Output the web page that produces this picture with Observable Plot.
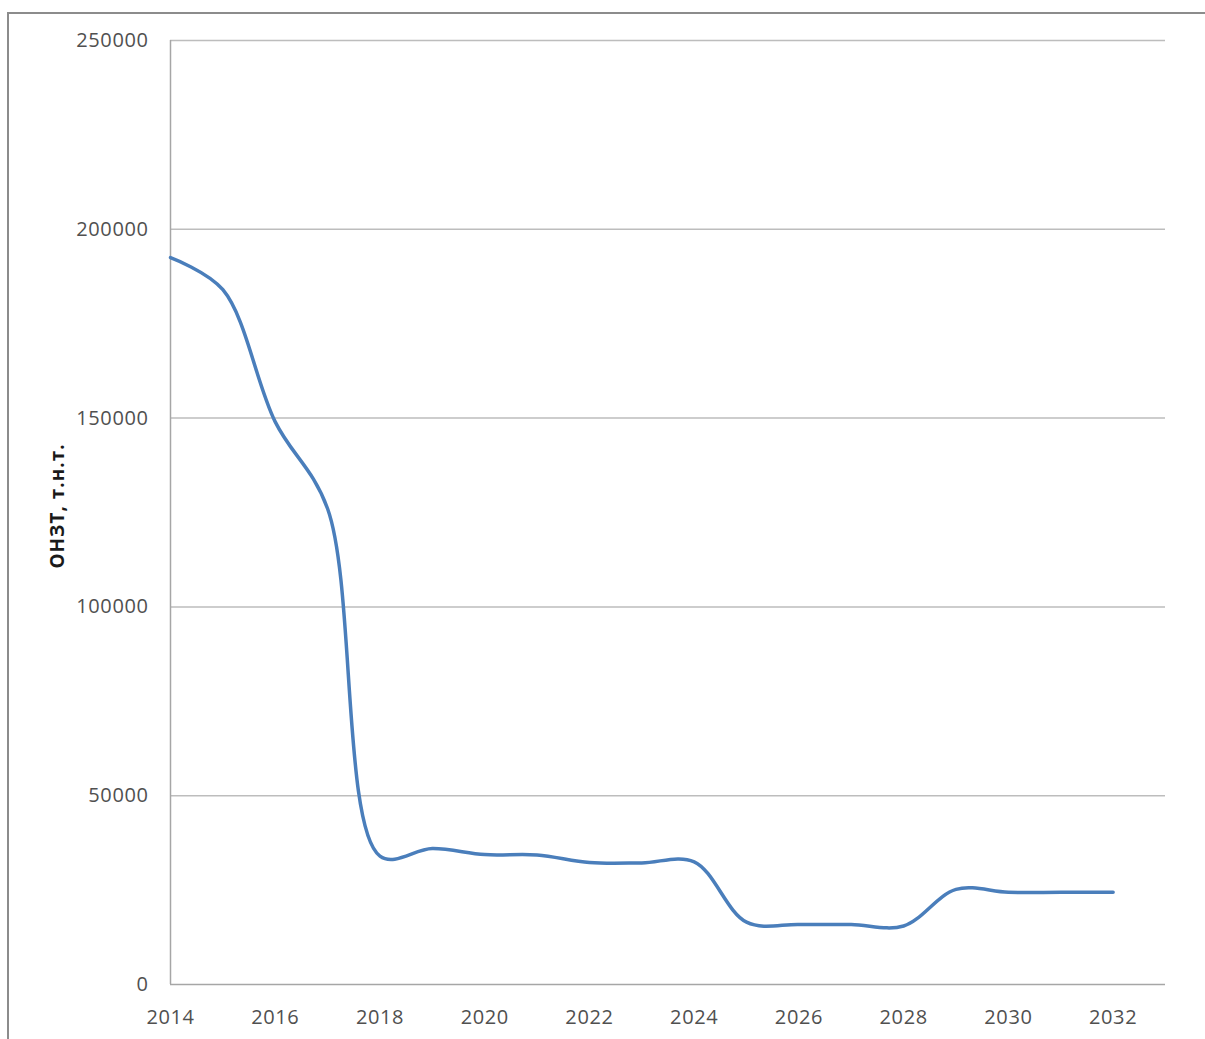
<!DOCTYPE html>
<html>
<head>
<meta charset="utf-8">
<script src="https://cdn.jsdelivr.net/npm/d3@7"></script>
<script src="https://cdn.jsdelivr.net/npm/@observablehq/plot@0.6"></script>
<style>
  html, body { margin: 0; padding: 0; background: #fff; overflow: hidden; }
  #wrap { position: relative; width: 1205px; height: 1039px; }
  #frame { position: absolute; left: 7px; top: 12px; width: 1220px; height: 1060px;
           border: 2px solid #8c8c8c; box-sizing: border-box; }
  #chart { position: absolute; left: 0; top: 0; }
  #ylabel { position: absolute; left: 57px; top: 506px; transform: translate(-50%, -50%) rotate(-90deg);
            font-family: "Open Sans", sans-serif; font-weight: bold; font-size: 19px; color: #1a1a1a;
            white-space: nowrap; letter-spacing: 1px; }
</style>
</head>
<body>
<div id="wrap">
  <div id="frame"></div>
  <div id="chart"></div>
  <div id="ylabel"></div>
</div>
<script>
const years  = [2014, 2015, 2016, 2017, 2018, 2019, 2020, 2021, 2022, 2023, 2024, 2025, 2026, 2027, 2028, 2029, 2030, 2031, 2032];
const values = [192500, 184000, 149000, 126000, 34000, 36000, 34400, 34300, 32300, 32200, 32500, 16500, 15900, 15900, 15500, 25200, 24400, 24400, 24400];
const xTicks = [2014, 2016, 2018, 2020, 2022, 2024, 2026, 2028, 2030, 2032];
const yTicks = [0, 50000, 100000, 150000, 200000, 250000];
const yLabel = "ОНЗТ, т.н.т.";

const data = years.map((year, i) => ({year, value: values[i]}));

const chart = Plot.plot({
  width: 1205,
  height: 1039,
  marginLeft: 170,
  marginRight: 40,
  marginTop: 40,
  marginBottom: 55,
  style: {fontFamily: "'Open Sans', sans-serif", fontSize: "20px", color: "#505050", background: "transparent", letterSpacing: "0.6px"},
  x: {domain: [2014, 2033], ticks: xTicks, tickFormat: d => String(d), tickSize: 0, tickPadding: 25, label: null},
  y: {domain: [0, 250000], ticks: yTicks, tickFormat: d => String(d), tickSize: 0, tickPadding: 22, label: null},
  marks: [
    Plot.ruleY(yTicks.filter(d => d > 0), {stroke: "#bdbdbd", strokeWidth: 1.5}),
    Plot.ruleX([2014], {stroke: "#a6a6a6", strokeWidth: 1.5}),
    Plot.ruleY([0], {stroke: "#a6a6a6", strokeWidth: 1.5}),
    Plot.line(data, {x: "year", y: "value", stroke: "#4a7ebb", strokeWidth: 3.5, curve: "catmull-rom"})
  ]
});
document.getElementById("chart").appendChild(chart);
document.getElementById("ylabel").textContent = yLabel;
</script>
</body>
</html>
